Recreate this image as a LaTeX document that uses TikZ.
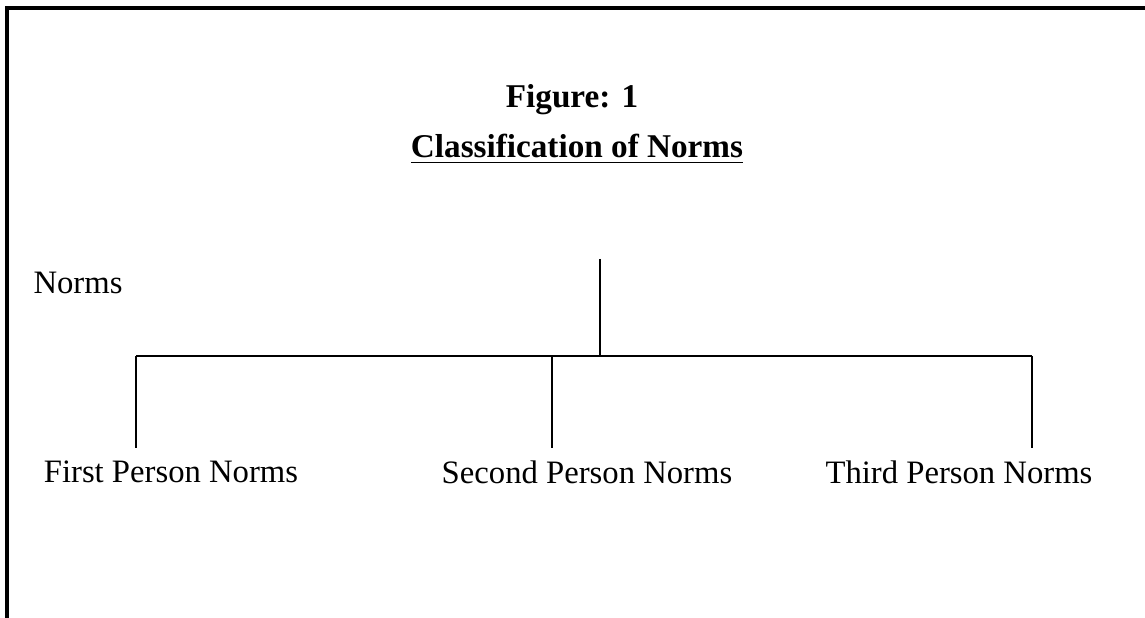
\documentclass[tikz,border=0pt]{standalone}
\usepackage{fontspec}
\setmainfont{Liberation Serif}
\usetikzlibrary{positioning}

\begin{document}
\begin{tikzpicture}[
  font=\fontsize{9.3}{11}\selectfont,
  title/.style={font=\fontsize{9.45}{11}\selectfont\bfseries, inner sep=1pt},
  label/.style={inner sep=1pt},
  branch/.style={line width=0.6pt},
  frame/.style={line width=0.9pt}
]
\useasboundingbox (0,0) rectangle (11.45,-6.18);

% frame
\draw[frame] (0.07,-6.3) -- (0.07,-0.08) -- (11.6,-0.08);

% titles
\node[title] (fig) at (5.72,-1.00) {Figure: 1};
\node[title] (cls) at (5.77,-1.49) {\underline{Classification of Norms}};

% nodes
\node[label] (norms) at (0.78,-2.83) {Norms};
\node[label] (first) at (1.71,-4.72) {First Person Norms};
\node[label] (second) at (5.87,-4.72) {Second Person Norms};
\node[label] (third) at (9.59,-4.72) {Third Person Norms};

% branches
\coordinate (stem) at (6.00,-2.59);
\coordinate (joint) at (6.00,-3.56);
\coordinate (b1) at (1.36,-3.56);
\coordinate (b2) at (5.52,-3.56);
\coordinate (b3) at (10.32,-3.56);
\coordinate (d1) at (1.36,-4.48);
\coordinate (d2) at (5.52,-4.48);
\coordinate (d3) at (10.32,-4.48);

\draw[branch] (stem) -- (joint);
\draw[branch] (b1) -- (b3);
\draw[branch] (b1) -- (d1);
\draw[branch] (b2) -- (d2);
\draw[branch] (b3) -- (d3);
\end{tikzpicture}
\end{document}
